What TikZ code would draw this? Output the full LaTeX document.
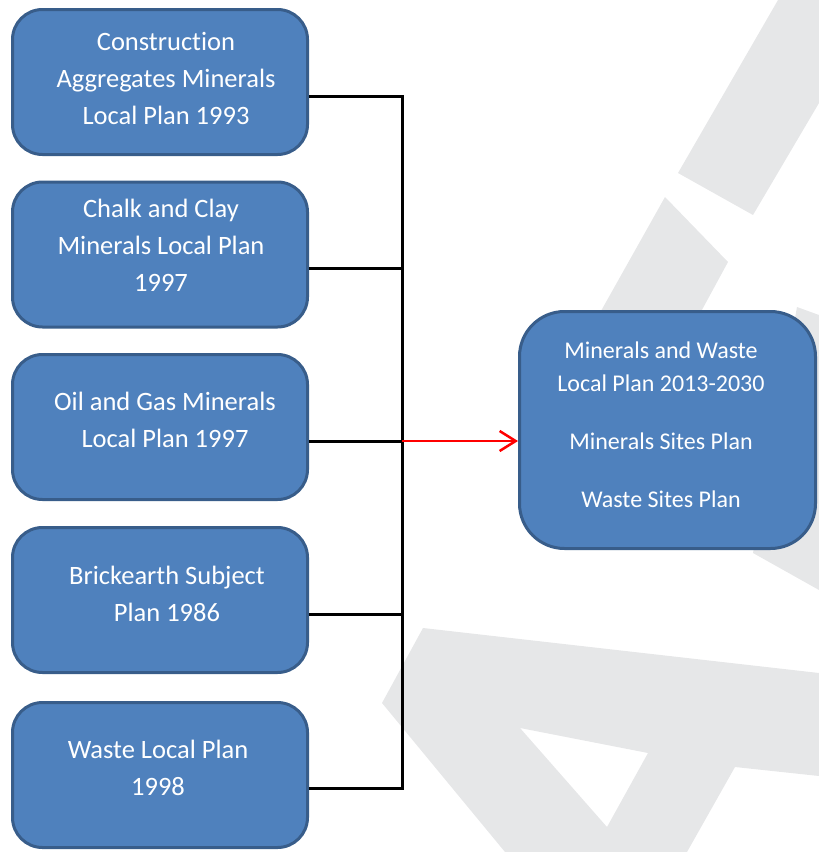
\documentclass[tikz,border=0pt]{standalone}
\usepackage{fontspec}
\setmainfont{Carlito}[Ligatures=NoCommon]
\usetikzlibrary{arrows.meta,calc}
\definecolor{boxfill}{RGB}{79,129,189}
\definecolor{boxline}{RGB}{56,93,138}
\definecolor{wm}{RGB}{230,231,232}
\begin{document}
\begin{tikzpicture}[x=1pt,y=-1pt,
  box/.style={draw=boxline, fill=boxfill, line width=3pt, rounded corners=30pt,
    minimum width=295pt, minimum height=145pt, inner sep=0pt},
  outbox/.style={draw=boxline, fill=boxfill, line width=3pt, rounded corners=45pt,
    minimum width=296pt, minimum height=237pt, inner sep=0pt},
  txt/.style={text=white, align=center, inner sep=0pt, font=\fontsize{26.5}{37}\selectfont},
  otxt/.style={text=white, align=center, inner sep=0pt, font=\fontsize{24}{33}\selectfont},
  conn/.style={draw=black, line width=3pt},
  redarrow/.style={draw=red, line width=2.5pt, -{Straight Barb[length=16pt,width=20pt,line width=2.5pt]}}
]
\useasboundingbox (0,0) rectangle (819,852);
% watermark
\fill[wm] (778,0) -- (819,0) -- (819,103) -- (753,215) -- (678,173) -- cycle;
\fill[wm] (665,197) -- (728,262) -- (653,400) -- (551,400) -- cycle;
\fill[wm] (797,307) -- (819,315) -- (819,590) -- (753,553) -- cycle;
\fill[wm, even odd rule] (382,703) -- (423,628) -- (819,673) -- (819,776) -- (735,767) -- (687,852) -- (505,852) -- cycle
  (520,728) -- (648,753) -- (607,827) -- cycle;
% boxes
\node[box] (b1) at (160,82) {};
\node[box] (b2) at (160,254.5) {};
\node[box] (b3) at (160,427) {};
\node[box] (b4) at (160,600) {};
\node[box] (b5) at (160,775) {};
\node[outbox] (out) at (667.5,430) {};
% texts (base = baseline of last line)
\node[txt, anchor=base] (t1) at (166,124.5) {Construction\\Aggregates Minerals\\Local Plan 1993};
\node[txt, anchor=base] (t2) at (161,291.5) {Chalk and Clay\\Minerals Local Plan\\1997};
\node[txt, anchor=base] (t3) at (165,447.5) {Oil and Gas Minerals\\Local Plan 1997};
\node[txt, anchor=base] (t4) at (167,621.5) {Brickearth Subject\\Plan 1986};
\node[txt, anchor=base] (t5) at (158,795.5) {Waste Local Plan\\1998};
\node[otxt, anchor=base] (t6) at (661,507) {Minerals and Waste\\Local Plan 2013-2030\\[25pt]Minerals Sites Plan\\[25pt]Waste Sites Plan};
% connectors
\coordinate (c1) at ($(b1.east)+(0,14)$);
\coordinate (c2) at ($(b2.east)+(0,14)$);
\coordinate (c3) at ($(b3.east)+(0,14)$);
\coordinate (c4) at ($(b4.east)+(0,14)$);
\coordinate (c5) at ($(b5.east)+(0,13)$);
\coordinate (bustop) at (402,0 |- c1);
\coordinate (busbot) at (402,0 |- c5);
\draw[conn] (c1) -- (bustop) -- (busbot) -- (c5);
\draw[conn] (c2) -- (c2 -| bustop);
\draw[conn] (c3) -- (c3 -| bustop);
\draw[conn] (c4) -- (c4 -| bustop);
\draw[redarrow] (c3 -| bustop) -- (c3 -| out.west);
\end{tikzpicture}
\end{document}
